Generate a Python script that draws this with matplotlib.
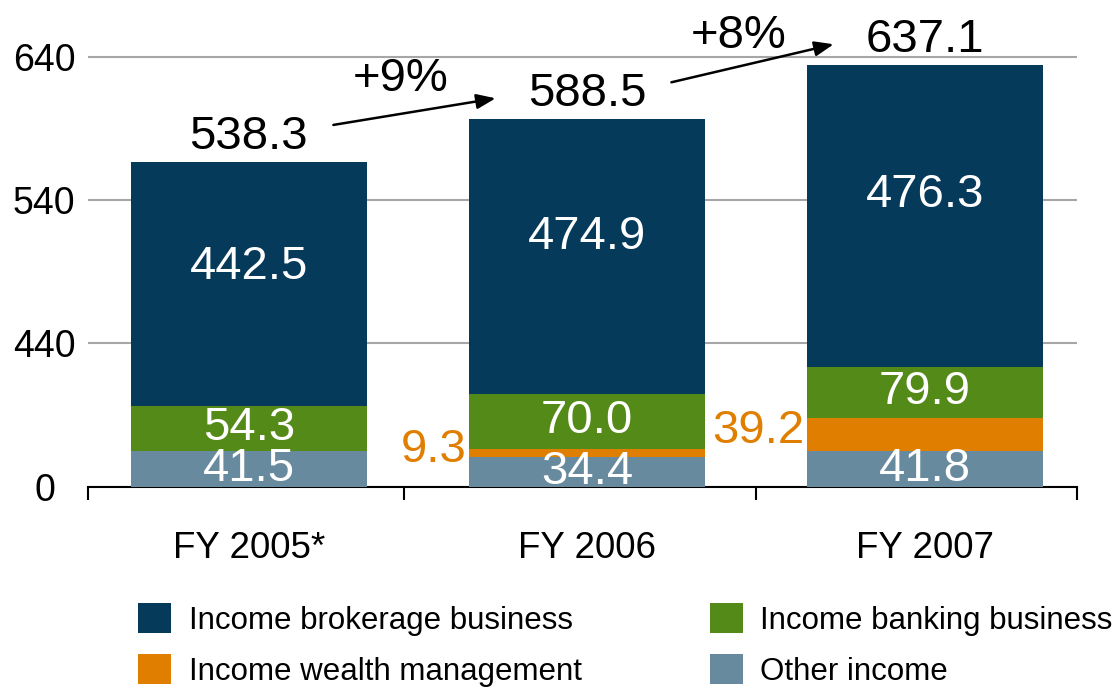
import numpy as np
import matplotlib
matplotlib.use("Agg")
import matplotlib.pyplot as plt
import matplotlib.transforms as mtransforms

plt.rcParams["font.family"] = ["Liberation Sans", "DejaVu Sans"]

# data (EUR m)
categories = ["FY 2005*", "FY 2006", "FY 2007"]
other_income = [41.5, 34.4, 41.8]
wealth_mgmt = [0.0, 9.3, 39.2]
banking = [54.3, 70.0, 79.9]
brokerage = [442.5, 474.9, 476.3]
totals = [538.3, 588.5, 637.1]
y_ticks = [0, 440, 540, 640]

colors = {
    "brokerage": "#063A5B",
    "banking": "#548A17",
    "wealth": "#E07E00",
    "other": "#688A9E",
}

# the original uses a broken axis: ticks and bars are drawn on two
# different piecewise scales (value -> pixels above the baseline)
tick_v = [0, 440, 540, 640, 800]
tick_p = [0, 144, 287, 430, 659]
bar_v = [0, 40, 100, 160, 540, 590, 640, 800]
bar_p = [0, 35, 85, 120, 326, 369, 425, 604]


def tick_fwd(v):
    return np.interp(v, tick_v, tick_p)


def tick_inv(p):
    return np.interp(p, tick_p, tick_v)


def bar_fwd(v):
    return np.interp(v, bar_v, bar_p)


def bar_inv(p):
    return np.interp(p, bar_p, bar_v)


fig = plt.figure(figsize=(11.18, 6.88), dpi=100)
ax = fig.add_axes([88 / 1118, 201 / 688, 989 / 1118, 487 / 688])
ax.set_yscale("function", functions=(tick_fwd, tick_inv))
ax.set_ylim(0, tick_inv(487))
ax.set_xlim(-0.476, 2.45)

# grid / y ticks on the back axis
ax.set_yticks(y_ticks)
ax.set_yticklabels([str(t) for t in y_ticks])
ax.yaxis.grid(True, color="#A6A6A6", linewidth=1.5)
ax.set_axisbelow(True)
ax.tick_params(axis="y", length=0, pad=9, labelsize=27)
for side in ["left", "right", "top"]:
    ax.spines[side].set_visible(False)
ax.spines["bottom"].set_linewidth(1.5)

# the "0" label sits further left in the original
zero_lbl = ax.yaxis.get_major_ticks()[0].label1
zero_lbl.set_transform(zero_lbl.get_transform()
                       + mtransforms.ScaledTranslation(-0.2, 0, fig.dpi_scale_trans))

x = np.arange(len(categories))
ax.set_xticks([-0.476, 0.46, 1.5, 2.45])
ax.set_xticklabels([])
ax.tick_params(axis="x", which="major", length=9.5, width=1.5, direction="out")
ax.set_xticks(x, labels=categories, minor=True)
ax.tick_params(axis="x", which="minor", length=0, pad=32, labelsize=26.5)

# bars on a twin axis with its own scale
axb = ax.twinx()
axb.set_yscale("function", functions=(bar_fwd, bar_inv))
axb.set_ylim(0, bar_inv(487))
axb.yaxis.set_visible(False)
for side in axb.spines:
    axb.spines[side].set_visible(False)

width = 0.70
series = [
    ("Other income", other_income, colors["other"]),
    ("Income wealth management", wealth_mgmt, colors["wealth"]),
    ("Income banking business", banking, colors["banking"]),
    ("Income brokerage business", brokerage, colors["brokerage"]),
]
bottom = np.zeros(len(categories))
handles = {}
for name, vals, col in series:
    vals = np.array(vals)
    h = axb.bar(x, vals, width, bottom=bottom, color=col, label=name, zorder=3)
    handles[name] = h
    for i, v in enumerate(vals):
        if v <= 0:
            continue
        lo, hi = bar_fwd(bottom[i]), bar_fwd(bottom[i] + v)
        if name == "Income wealth management":
            axb.annotate(f"{v:.1f}", (x[i] - width / 2, bar_inv((lo + hi) / 2)),
                         xytext=(-2, 3), textcoords="offset pixels",
                         ha="right", va="center", color=col, fontsize=34, zorder=5)
        else:
            frac = 0.57 if name == "Income brokerage business" else 0.5
            axb.text(x[i], bar_inv(lo + frac * (hi - lo)), f"{v:.1f}",
                     ha="center", va="center", color="white", fontsize=34, zorder=5)
    bottom += vals

# totals
for i, t in enumerate(totals):
    axb.annotate(f"{t:.1f}", (x[i], t), xytext=(0, 13), textcoords="offset pixels",
                 ha="center", va="baseline", fontsize=34, zorder=5)

# growth arrows
tip_tr = mtransforms.offset_copy(axb.transData, fig=fig, y=21, units="dots")
start_tr = mtransforms.offset_copy(axb.transData, fig=fig, y=37, units="dots")
label_tr = mtransforms.offset_copy(axb.transData, fig=fig, y=71, units="dots")
for i in range(len(totals) - 1):
    growth = round((totals[i + 1] / totals[i] - 1) * 100)
    axb.annotate("", xy=(x[i + 1] - 0.27, totals[i + 1]), xycoords=tip_tr,
                 xytext=(x[i] + 0.25, totals[i]), textcoords=start_tr,
                 arrowprops=dict(arrowstyle="-|>,head_length=1.15,head_width=0.45",
                                 color="black", lw=1.8, shrinkA=0, shrinkB=0))
    axb.text(x[i] + 0.45, totals[i], f"+{growth}%", transform=label_tr,
             ha="center", va="baseline", fontsize=34)

order = ["Income brokerage business", "Income wealth management",
         "Income banking business", "Other income"]
fig.legend([handles[k] for k in order], order, ncol=2, frameon=False,
           loc="upper left", bbox_to_anchor=(138 / 1118, 1 - 603 / 688),
           borderpad=0, borderaxespad=0, fontsize=22.5, handlelength=1.06,
           handleheight=1.1, handletextpad=0.56, columnspacing=4.1,
           labelspacing=0.6)

fig.savefig("out.png", dpi=100)
